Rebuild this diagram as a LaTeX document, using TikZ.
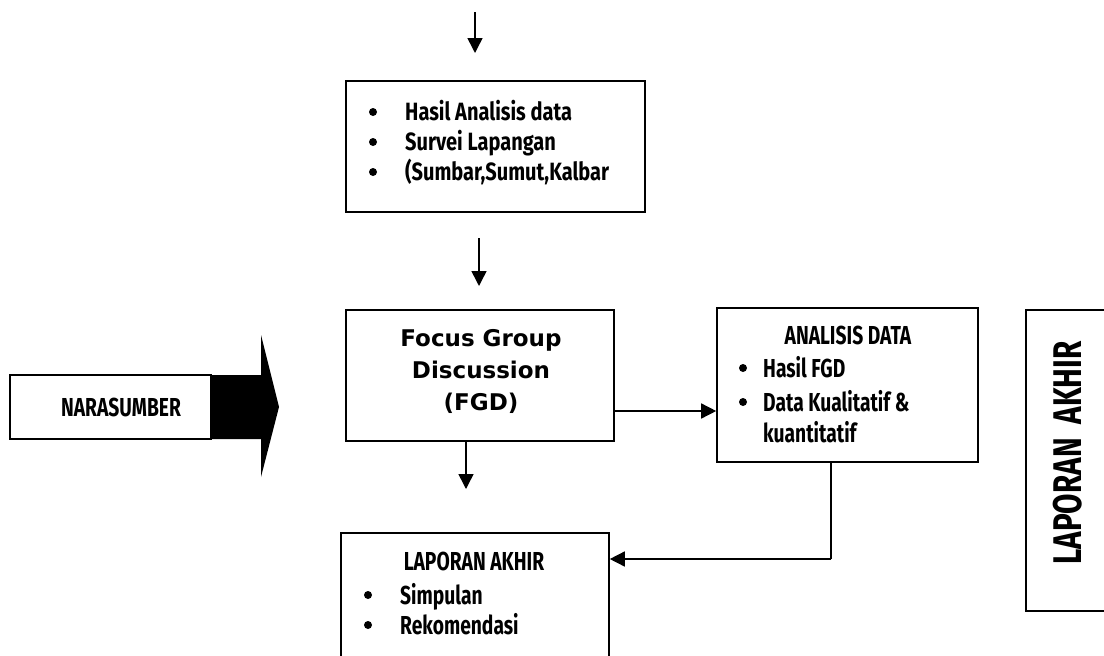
\documentclass[tikz,border=0pt]{standalone}
\usepackage{fontspec}
\usetikzlibrary{arrows.meta}
\newfontfamily\agfont[FakeStretch=0.74]{Fira Sans}
\newfontfamily\agwide[FakeStretch=0.8]{Fira Sans}
\newfontfamily\vdfont{DejaVu Sans}
\tikzset{
  boxshape/.style={draw=black, line width=1.6pt, fill=white, inner sep=0pt},
  arr/.style={line width=1.5pt, -{Triangle[length=15pt,width=15pt]}},
  conn/.style={line width=1.5pt},
  bul/.style={circle, fill=black, minimum size=8pt, inner sep=0pt},
  ag/.style={inner sep=0pt, font=\agfont\bfseries\fontsize{#1}{#1}\selectfont},
  ag/.default=26pt,
  agw/.style={inner sep=0pt, font=\agwide\bfseries\fontsize{#1}{#1}\selectfont},
  agw/.default=25pt,
}
\begin{document}
\begin{tikzpicture}[x=1pt,y=-1pt]
\useasboundingbox (0,0) rectangle (1104,656);
\clip (0,0) rectangle (1104,656);
\fill[white] (0,0) rectangle (1104,656);

% top arrow
\coordinate (t1) at (475,12);
\coordinate (t2) at (475,53);
\draw[arr] (t1) -- (t2);

% top box
\node[boxshape, minimum width=299pt, minimum height=131pt] (topbox) at (495.5,146.5) {};
\node[bul] (b1) at (373,112) {};
\node[bul] (b2) at (373,142) {};
\node[bul] (b3) at (373,172) {};
\node[agw, anchor=base west] (t1txt) at (405,120.6) {Hasil Analisis data};
\node[agw, anchor=base west] (t2txt) at (405,150.6) {Survei Lapangan};
\node[agw, anchor=base west] (t3txt) at (405,180.6) {(Sumbar,Sumut,Kalbar};

% second arrow
\coordinate (s1) at (479,238);
\coordinate (s2) at (479,286);
\draw[arr] (s1) -- (s2);

% FGD box
\node[boxshape, minimum width=268pt, minimum height=131pt] (fgd) at (480,375.5) {};
\node[inner sep=0pt, align=center, font=\vdfont\bfseries\fontsize{23pt}{32pt}\selectfont] (fgdtxt) at (481,371) {Focus Group\\Discussion\\(FGD)};

% NARASUMBER big arrow
\draw[line width=1.2pt, fill=white] (10,375) rectangle (211,439);
\fill[black] (211,375) -- (261,375) -- (261,335) -- (279,407) -- (261,477) -- (261,439) -- (211,439) -- cycle;
\node[ag, anchor=base] (nara) at (121,416) {NARASUMBER};

% ANALISIS box
\node[boxshape, minimum width=261pt, minimum height=154pt] (ana) at (847.5,385) {};
\node[ag, anchor=base] (anatitle) at (848,344) {ANALISIS DATA};
\node[bul] (b4) at (743,368) {};
\node[bul] (b5) at (743,402) {};
\node[ag, anchor=base west] (a1txt) at (763,377) {Hasil FGD};
\node[ag, anchor=base west] (a2txt) at (763,411) {Data Kualitatif \&};
\node[ag, anchor=base west] (a3txt) at (763,442) {kuantitatif};

% LAPORAN box
\node[boxshape, minimum width=268pt, minimum height=150pt] (lap) at (475,608) {};
\node[ag, anchor=base] (laptitle) at (474,570) {LAPORAN AKHIR};
\node[bul] (b6) at (368,595) {};
\node[bul] (b7) at (368,625) {};
\node[ag, anchor=base west] (l1txt) at (400,604) {Simpulan};
\node[ag, anchor=base west] (l2txt) at (400,634) {Rekomendasi};

% right vertical box
\node[boxshape, minimum width=100pt, minimum height=301pt] (rbox) at (1076,460.5) {};
\node[ag=40pt, rotate=90] (rtxt) at (1068,453) {LAPORAN\ \ AKHIR};

% connectors
\coordinate (y411) at (0,411);
\draw[arr] (fgd.east |- y411) -- (ana.west |- y411);
\coordinate (fd) at (466,489);
\draw[arr] (fgd.south -| fd) -- (fd);
\coordinate (corner) at (831,559);
\draw[conn] (ana.south -| corner) -- (corner);
\draw[arr] (corner) -- (lap.east |- corner);
\end{tikzpicture}
\end{document}
